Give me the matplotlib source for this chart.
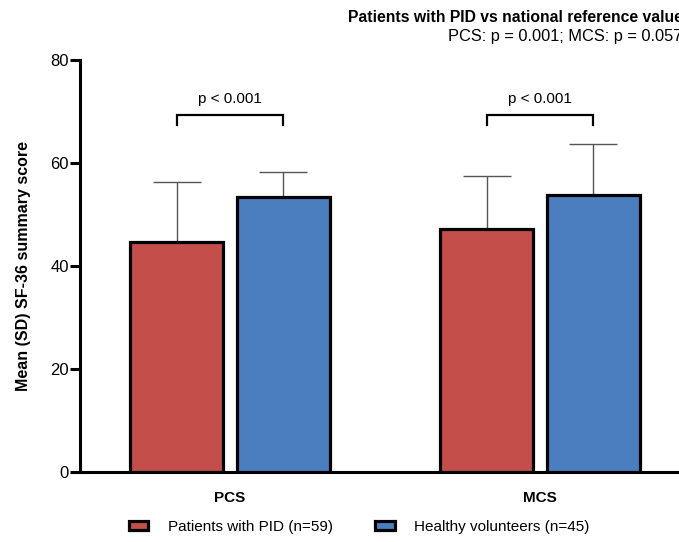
import matplotlib.pyplot as plt
import numpy as np

plt.rcParams['font.family'] = ['Liberation Sans', 'DejaVu Sans']

categories = ["PCS", "MCS"]
groups = ["Patients with PID (n=59)", "Healthy volunteers (n=45)"]
pid_mean = [44.7, 47.2]
pid_sd = [11.6, 10.3]
hv_mean = [53.4, 53.8]
hv_sd = [4.9, 9.9]
p_labels = ["p < 0.001", "p < 0.001"]

colors = ["#c44e4a", "#4a7ebf"]

fig = plt.figure(figsize=(6.79, 5.42), dpi=100)
ax = fig.add_axes([80/679, 70/542, 667/679, 412/542])

x = np.arange(len(categories))
w = 0.30
off = 0.172
for xs, m, sd, c, lab in [(x - off, pid_mean, pid_sd, colors[0], groups[0]),
                          (x + off, hv_mean, hv_sd, colors[1], groups[1])]:
    ax.bar(xs, m, w, color=c, edgecolor="black", linewidth=2.3, label=lab, zorder=3)
    top = np.array(m) + np.array(sd)
    # upward-only SD whisker
    ax.vlines(xs, m, top, color="#555555", lw=1, zorder=2)
    ax.plot(xs, top, ls="none", marker="_", ms=34, mew=1, color="#555555", zorder=2)

# significance brackets
for i, lab in enumerate(p_labels):
    x0, x1 = x[i] - off, x[i] + off
    ax.plot([x0, x0, x1, x1], [67.4, 69.3, 69.3, 67.4], color="black", lw=1.6,
            solid_joinstyle="miter", clip_on=False)
    ax.text(x[i], 71.0, lab, ha="center", va="bottom", fontsize=11)

ax.set_ylim(0, 80)
ax.set_xlim(-0.484, 1.668)
ax.set_yticks([0, 20, 40, 60, 80])
ax.set_xticks(x)
ax.set_xticklabels(categories, fontweight="bold", fontsize=11)
ax.tick_params(axis="y", length=7, width=2.2, labelsize=12, pad=1)
ax.tick_params(axis="x", length=0, pad=14)
ax.set_ylabel("Mean (SD) SF-36 summary score", fontweight="bold", fontsize=11.5, labelpad=14)
for s in ["top", "right"]:
    ax.spines[s].set_visible(False)
for s in ["left", "bottom"]:
    ax.spines[s].set_linewidth(2.2)

# title runs off the right edge, as in the original
fig.text(348/679, 1 - 17/542, "Patients with PID vs national reference values",
         fontweight="bold", fontsize=11.3, ha="left", va="center")
fig.text(448/679, 1 - 36/542, "PCS: p = 0.001; MCS: p = 0.057",
         fontsize=11.8, ha="left", va="center")

fig.legend(loc="center left", bbox_to_anchor=(115/679, 1 - 527/542), ncol=2,
           frameon=False, fontsize=11, handlelength=1.25, handleheight=0.55,
           columnspacing=2.8, handletextpad=1.3)

fig.savefig("out.png", dpi=100)
